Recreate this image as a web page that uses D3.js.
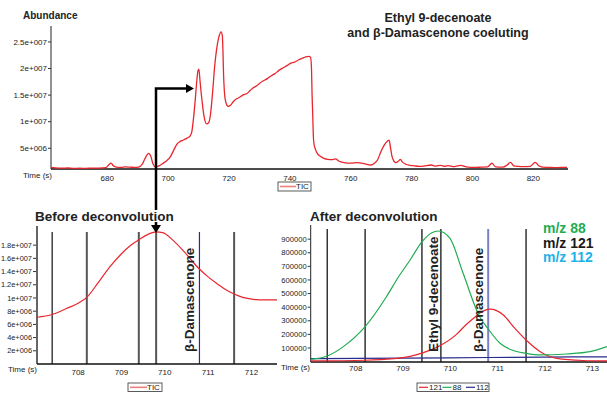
<!DOCTYPE html>
<html>
<head>
<meta charset="utf-8">
<script src="https://cdn.jsdelivr.net/npm/d3@7/dist/d3.min.js"></script>
<style>
  html, body { margin: 0; padding: 0; background: #fff; }
  svg { display: block; font-family: "Liberation Sans", Arial, sans-serif; }
</style>
</head>
<body>
<svg id="chart" width="607" height="393"></svg>
<script>
// ---- TIC trace (time in s, abundance) ----
const ticTime = [661.5,663,665,667,669,671,673,675,677,678.5,679.5,680.5,681.3,682,683,684.5,686,687.5,689,690.5,691.5,692.5,693.6,694.3,695,695.8,697,698.4,699.6,700.7,701.8,702.9,704,705.2,706.2,707.2,707.8,708.4,708.9,709.4,709.8,710.1,710.5,711.1,711.8,712.6,713.3,713.9,714.6,715.3,715.9,716.7,717.4,717.8,718.0,718.2,718.5,718.9,719.7,720.5,721.6,722.5,723.5,724.5,725.9,727,728,729,730,731,732.6,734,735,736.5,738,739.2,740.3,741.5,742.8,744,745.2,746.2,746.8,747.1,747.3,747.5,747.7,747.9,748.4,749.0,750,751.2,752.5,753.8,755,756,757.8,760,762.2,764,766.6,767.8,768.8,769.8,771,772.2,772.6,773.1,773.6,774.8,775.7,776.3,777,778.1,779.5,780.9,782.5,784,786.4,788,789.5,791,792,794,796.2,798,800.6,803,805,806.4,807.6,810,811.3,812.5,813.6,815,817,819,820.6,821.8,823,825,827,829,831.1];
const ticAbund = [1.40,1.30,1.25,1.30,1.22,1.25,1.22,1.28,1.25,1.30,1.35,1.9,2.2,1.7,1.45,1.40,1.50,1.45,1.40,1.5,2.0,3.2,4.05,3.5,2.1,1.5,1.7,2.2,2.7,3.4,4.6,5.8,6.3,6.6,6.9,7.3,8.2,11.0,14.1,17.6,19.6,19.9,17.5,14.1,11.0,9.6,9.8,11.3,15.5,20.5,23.5,26.0,26.9,26.2,23.5,19.0,15.5,13.8,12.9,13.1,13.9,14.3,14.6,15.0,15.3,15.9,16.4,16.7,17.2,17.6,18.1,18.7,19.0,19.7,20.2,20.6,21.0,21.2,21.6,21.9,22.2,22.3,22.1,20.0,15.0,11.5,7.5,5.9,4.8,4.05,3.5,3.1,2.9,2.85,3.0,2.6,2.3,2.2,2.3,2.15,1.85,2.2,2.8,4.2,5.6,6.4,6.55,5.0,3.4,2.3,2.6,2.9,2.4,2.0,1.8,1.7,1.6,1.65,1.85,1.65,1.8,1.6,1.75,1.55,1.8,1.5,1.4,1.45,1.5,2.2,1.5,1.45,1.8,2.35,1.7,1.6,1.55,1.6,2.35,1.7,1.45,1.4,1.35,1.4,1.4].map(v => v * 1e6);

const topYTicks = [5e6, 1e7, 1.5e7, 2e7, 2.5e7];
const topYLabels = ["5e+006", "1e+007", "1.5e+007", "2e+007", "2.5e+007"];
const topXTicks = [680, 700, 720, 740, 760, 780, 800, 820];

// ---- zoomed TIC around the coelution ----
const zoomTime = [707.05, 707.4, 707.73, 708.0, 708.2, 708.45, 708.73, 709.0, 709.2, 709.4, 709.6, 709.8, 709.95, 710.18, 710.5, 710.78, 711.0, 711.2, 711.4, 711.6, 711.8, 712.05, 712.3, 712.59];
const zoomTIC  = [7.08, 7.5, 8.4, 9.2, 10.1, 12.2, 14.7, 16.7, 17.9, 18.8, 19.6, 20.0, 19.9, 18.8, 16.6, 14.5, 13.2, 12.2, 11.3, 10.6, 10.1, 9.8, 9.7, 9.7].map(v => v * 1e6);
const blYTicks = [2e6, 4e6, 6e6, 8e6, 1e7, 1.2e7, 1.4e7, 1.6e7, 1.8e7];
const blYLabels = ["2e+006", "4e+006", "6e+006", "8e+006", "1e+007", "1.2e+007", "1.4e+007", "1.6e+007", "1.8e+007"];
const zoomXTicks = [708, 709, 710, 711, 712, 713];

// ---- deconvolved ion traces ----
const mz88Time  = [707.05, 707.4, 707.74, 708.2, 708.65, 708.9, 709.15, 709.4, 709.6, 709.75, 709.99, 710.27, 710.62, 710.79, 711.05, 711.3, 711.6, 711.9, 712.46, 712.95, 713.31];
const mz88Val   = [17000, 41000, 110000, 257000, 477000, 620000, 747000, 880000, 945000, 960000, 907000, 649000, 330000, 245000, 135000, 85000, 61000, 49000, 56000, 73000, 110000];
const mz121Time = [707.05, 708.2, 708.8, 709.15, 709.4, 709.6, 709.78, 710.13, 710.3, 710.49, 710.65, 710.84, 711.12, 711.35, 711.6, 711.9, 712.25, 712.8, 713.31];
const mz121Val  = [5000, 10000, 22000, 38000, 62000, 88000, 117000, 200000, 260000, 318000, 362000, 385000, 343000, 250000, 159000, 73000, 24000, 8000, 5000];
const mz112Time = [707.05, 709.0, 710.8, 712.0, 713.31];
const mz112Val  = [22000, 26000, 30000, 33000, 35000];
const brYTicks = [100000, 200000, 300000, 400000, 500000, 600000, 700000, 800000, 900000];

// retention-time markers (s)
const markerTimes = [707.4, 708.2, 709.4, 709.8, 710.8, 711.6];
const damasceTime = 710.8;
const decenoTime = 709.8;

const svg = d3.select("#chart");
const red = "#e8262e", green = "#1fac52", navy = "#2a2c8c";

function yAxisTicks(g, y, x0, values, labels, fs) {
  const grp = g.append("g");
  values.forEach((v, i) => {
    grp.append("line").attr("x1", x0 - 3).attr("x2", x0).attr("y1", y(v)).attr("y2", y(v))
      .attr("stroke", "#333").attr("stroke-width", 1);
    grp.append("text").attr("x", x0 - 4).attr("y", y(v)).attr("dy", "0.35em")
      .attr("text-anchor", "end").attr("font-size", fs || 8).attr("fill", "#222").text(labels[i]);
  });
}
function xAxisLabels(g, x, yPos, values) {
  values.forEach(v => {
    const px = x(v);
    if (px < x.range()[0] + 5 || px > x.range()[1] - 5) return;
    g.append("text").attr("x", px).attr("y", yPos).attr("dy", "0.35em")
      .attr("text-anchor", "middle").attr("font-size", 8).attr("fill", "#222").text(v);
  });
}

// ================= TOP: full TIC =================
const xTop = d3.scaleLinear().domain([661.5, 831.4]).range([51, 568]);
const yTop = d3.scaleLinear().domain([1.1e6, 2.8e7]).range([169, 26]);
const topG = svg.append("g");
topG.append("text").attr("x", 23).attr("y", 19).attr("font-size", 10).attr("font-weight", "bold")
  .attr("fill", "#222").text("Abundance");
topG.append("line").attr("x1", 51).attr("x2", 51).attr("y1", 26).attr("y2", 169).attr("stroke", "#222");
topG.append("line").attr("x1", 51).attr("x2", 568).attr("y1", 169).attr("y2", 169).attr("stroke", "#111").attr("stroke-width", 1.3);
yAxisTicks(topG, yTop, 51, topYTicks, topYLabels);
xAxisLabels(topG, xTop, 178, topXTicks);
topG.append("text").attr("x", 23).attr("y", 175).attr("dy", "0.35em").attr("font-size", 8).attr("fill", "#222").text("Time (s)");
topG.append("path")
  .datum(ticTime.map((t, i) => [t, ticAbund[i]]))
  .attr("fill", "none").attr("stroke", red).attr("stroke-width", 1.3)
  .attr("d", d3.line().x(d => xTop(d[0])).y(d => yTop(d[1])).curve(d3.curveMonotoneX));
// legend
const lgTop = topG.append("g").attr("transform", "translate(278,182)");
lgTop.append("rect").attr("width", 33).attr("height", 9).attr("fill", "#fff").attr("stroke", "#333").attr("stroke-width", 0.8);
lgTop.append("line").attr("x1", 2).attr("x2", 18).attr("y1", 4.5).attr("y2", 4.5).attr("stroke", "#f08080").attr("stroke-width", 1.6);
lgTop.append("text").attr("x", 18).attr("y", 4.5).attr("dy", "0.35em").attr("font-size", 8).attr("fill", "#222").text("TIC");
// title
topG.append("text").attr("x", 438).attr("y", 22).attr("text-anchor", "middle").attr("font-size", 12.5)
  .attr("font-weight", "bold").attr("fill", "#222").text("Ethyl 9-decenoate");
topG.append("text").attr("x", 438).attr("y", 37).attr("text-anchor", "middle").attr("font-size", 12.5)
  .attr("font-weight", "bold").attr("fill", "#222").text("and β-Damascenone coeluting");

// ================= BOTTOM LEFT: before deconvolution =================
const xBL = d3.scaleLinear().domain([707.05, 712.59]).range([37, 277]);
const yBL = d3.scaleLinear().domain([0, 20.9e6]).range([364, 226]);
const bl = svg.append("g");
bl.append("text").attr("x", 35).attr("y", 221).attr("font-size", 13.5).attr("font-weight", "bold")
  .attr("fill", "#222").text("Before deconvolution");
markerTimes.forEach((t, i) => {
  const isD = t === damasceTime;
  bl.append("line").attr("x1", xBL(t)).attr("x2", xBL(t)).attr("y1", 232).attr("y2", 364)
    .attr("stroke", isD ? navy : (i === 0 ? "#111" : "#555"))
    .attr("stroke-width", isD ? 1.2 : (i === 0 ? 1.2 : 2));
});
bl.append("line").attr("x1", 37).attr("x2", 37).attr("y1", 226).attr("y2", 364).attr("stroke", "#555").attr("stroke-width", 1.8);
bl.append("line").attr("x1", 37).attr("x2", 277).attr("y1", 364).attr("y2", 364).attr("stroke", "#111").attr("stroke-width", 1.3);
yAxisTicks(bl, yBL, 36, blYTicks, blYLabels, 7.4);
xAxisLabels(bl, xBL, 372, zoomXTicks);
bl.append("text").attr("x", 8).attr("y", 369).attr("dy", "0.35em").attr("font-size", 8).attr("fill", "#222").text("Time (s)");
bl.append("path")
  .datum(zoomTime.map((t, i) => [t, zoomTIC[i]]))
  .attr("fill", "none").attr("stroke", red).attr("stroke-width", 1.2)
  .attr("d", d3.line().x(d => xBL(d[0])).y(d => yBL(d[1])).curve(d3.curveMonotoneX));
bl.append("text").attr("transform", `translate(${xBL(damasceTime) - 5},352) rotate(-90)`)
  .attr("font-size", 13.5).attr("font-weight", "bold").attr("fill", "#222").text("β-Damascenone");
const lgBL = bl.append("g").attr("transform", "translate(128,383)");
lgBL.append("rect").attr("width", 34).attr("height", 8.5).attr("fill", "#fff").attr("stroke", "#333").attr("stroke-width", 0.8);
lgBL.append("line").attr("x1", 2).attr("x2", 19).attr("y1", 4.3).attr("y2", 4.3).attr("stroke", "#f08080").attr("stroke-width", 1.6);
lgBL.append("text").attr("x", 19).attr("y", 4.3).attr("dy", "0.35em").attr("font-size", 8).attr("fill", "#222").text("TIC");

// ================= BOTTOM RIGHT: after deconvolution =================
const xBR = d3.scaleLinear().domain([707.05, 713.31]).range([310.7, 607]);
const yBR = d3.scaleLinear().domain([0, 1.004e6]).range([361.6, 225]);
const br = svg.append("g");
br.append("text").attr("x", 310).attr("y", 221).attr("font-size", 13.5).attr("font-weight", "bold")
  .attr("fill", "#222").text("After deconvolution");
markerTimes.forEach(t => {
  const isD = t === damasceTime;
  br.append("line").attr("x1", xBR(t)).attr("x2", xBR(t)).attr("y1", 229).attr("y2", 362)
    .attr("stroke", isD ? "#7880c8" : "#333").attr("stroke-width", isD ? 2 : 1.5);
});
br.append("line").attr("x1", 310.7).attr("x2", 310.7).attr("y1", 225).attr("y2", 362).attr("stroke", "#222");
br.append("line").attr("x1", 310.7).attr("x2", 607).attr("y1", 362).attr("y2", 362).attr("stroke", "#111").attr("stroke-width", 1.3);
yAxisTicks(br, yBR, 310.7, brYTicks, brYTicks.map(String), 7.6);
xAxisLabels(br, xBR, 368, zoomXTicks);
br.append("text").attr("x", 281).attr("y", 367).attr("dy", "0.35em").attr("font-size", 8).attr("fill", "#222").text("Time (s)");
const lineBR = d3.line().x(d => xBR(d[0])).y(d => yBR(d[1])).curve(d3.curveMonotoneX);
const series = [
  { t: mz112Time, v: mz112Val, c: navy },
  { t: mz121Time, v: mz121Val, c: red },
  { t: mz88Time, v: mz88Val, c: green },
];
series.forEach(s => {
  br.append("path").datum(s.t.map((t, i) => [t, s.v[i]]))
    .attr("fill", "none").attr("stroke", s.c).attr("stroke-width", 1.2).attr("d", lineBR);
});
br.append("text").attr("transform", `translate(${xBR(decenoTime) - 3},352) rotate(-90)`)
  .attr("font-size", 13.5).attr("font-weight", "bold").attr("fill", "#222").text("Ethyl 9-decenoate");
br.append("text").attr("transform", `translate(${xBR(damasceTime) - 5},352) rotate(-90)`)
  .attr("font-size", 13.5).attr("font-weight", "bold").attr("fill", "#222").text("β-Damascenone");
[["m/z 88", green], ["m/z 121", "#1a1a1a"], ["m/z 112", "#1fb2e8"]].forEach((d, i) => {
  br.append("text").attr("x", 543).attr("y", 233 + i * 14.5).attr("font-size", 14).attr("font-weight", "bold")
    .attr("fill", d[1]).text(d[0]);
});
const lgBR = br.append("g").attr("transform", "translate(417,383)");
lgBR.append("rect").attr("width", 72).attr("height", 8.5).attr("fill", "#fff").attr("stroke", "#333").attr("stroke-width", 0.8);
[["121", red], ["88", green], ["112", navy]].forEach((d, i) => {
  const ox = 2 + i * 23.5;
  lgBR.append("line").attr("x1", ox).attr("x2", ox + 9).attr("y1", 4.3).attr("y2", 4.3).attr("stroke", d[1]).attr("stroke-width", 1.2);
  lgBR.append("text").attr("x", ox + 10).attr("y", 4.3).attr("dy", "0.35em").attr("font-size", 8).attr("fill", "#222").text(d[0]);
});

// ================= connector arrow =================
const arrowX = 156;
const arr = svg.append("g").attr("stroke", "#000").attr("stroke-width", 2.5).attr("fill", "none");
arr.append("path").attr("d", `M${arrowX},210 V88.5 H186`);
arr.append("path").attr("d", `M${arrowX},222 V226`);
svg.append("path").attr("d", `M186,84 L194,88.5 L186,93 Z`).attr("fill", "#000");
svg.append("path").attr("d", `M${arrowX - 5},225 L${arrowX + 5},225 L${arrowX},233 Z`).attr("fill", "#000");
</script>
</body>
</html>
